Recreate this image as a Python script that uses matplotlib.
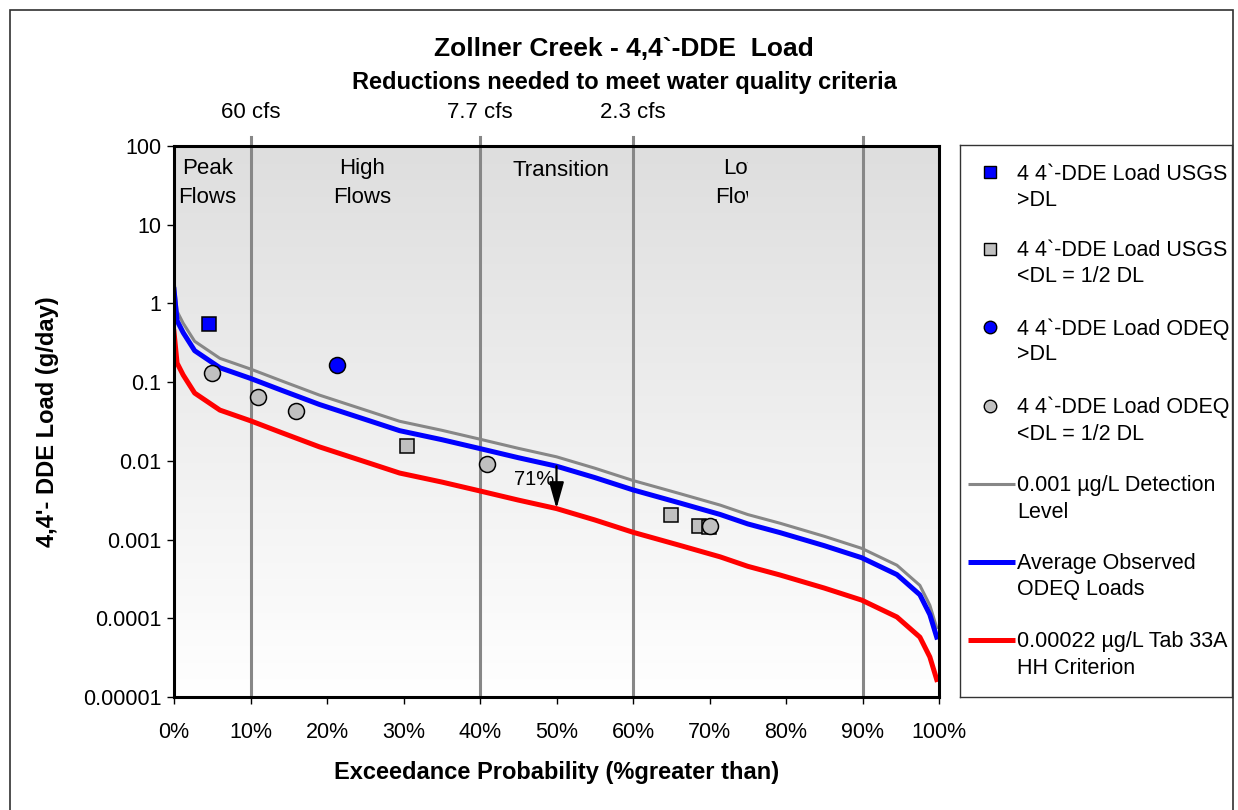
import numpy as np
import matplotlib
matplotlib.use("Agg")
import matplotlib.pyplot as plt
from matplotlib.colors import LinearSegmentedColormap
from matplotlib.patches import Rectangle
from matplotlib.transforms import Bbox, TransformedBbox, blended_transform_factory

plt.rcParams['font.family'] = ['Liberation Sans', 'DejaVu Sans']

# ---- Flow duration curve for Zollner Creek (percent of time exceeded, cfs) ----
exceed_pct = [0, 0.4, 1.2, 2.7, 6, 10, 13.9, 19, 25.6, 29.5, 35, 40, 45, 50,
              55, 60, 66, 71.4, 75, 79.2, 85, 89.9, 94.5, 97.5, 98.8, 99.7]
flow_cfs = [806, 325, 229, 135, 82, 60, 43, 28, 17.3, 13, 10, 7.7, 5.9, 4.6,
            3.3, 2.3, 1.58, 1.12, 0.85, 0.66, 0.45, 0.316, 0.193, 0.107, 0.060, 0.031]

# ---- Concentrations (ug/L) ----
detection_level = 0.001
observed_avg = 0.00076
criterion = 0.00022

# ug/L * cfs -> g/day
GDAY_PER_UGL_CFS = 28.3168 * 86400 * 1e-6

# ---- Sample loads (g/day) ----
usgs_det_pct = [4.6]
usgs_det_load = [0.55]
usgs_nd_pct = [30.5, 65.0, 68.6, 69.9]
usgs_nd_load = [0.0154, 0.00205, 0.00149, 0.00146]
odeq_det_pct = [21.3]
odeq_det_load = [0.165]
odeq_nd_pct = [5.0, 11.0, 15.9, 40.9, 70.1]
odeq_nd_load = [0.13, 0.0647, 0.043, 0.0091, 0.00149]

# ---- Flow zones ----
zone_bounds = [10, 40, 60, 90]
flow_label_pcts = [10, 40, 60]
zone_names = ["Peak\nFlows", "High\nFlows", "Transition", "Low\nFlows"]
reduction_pct_at = 50

# ---- Axis ticks ----
y_ticks = [1e-5, 1e-4, 1e-3, 1e-2, 1e-1, 1, 10, 100]
y_tick_labels = ["0.00001", "0.0001", "0.001", "0.01", "0.1", "1", "10", "100"]
x_ticks = list(range(0, 101, 10))
x_tick_labels = [f"{v}%" for v in x_ticks]

# ---- Derived load curves ----
flow = np.array(flow_cfs)
dl_load = detection_level * flow * GDAY_PER_UGL_CFS
obs_load = observed_avg * flow * GDAY_PER_UGL_CFS
crit_load = criterion * flow * GDAY_PER_UGL_CFS

GREY = '#878787'
W, H = 1238, 810
fig = plt.figure(figsize=(W / 100, H / 100), dpi=100)


def fx(px):
    return px / W


def fy(py):
    return 1 - py / H


ax_rect = [fx(174), fy(697), fx(939) - fx(174), fy(146) - fy(697)]

# gradient backdrop behind the plot area
bg = fig.add_axes(ax_rect, zorder=0)
bg.imshow(np.linspace(0, 1, 256).reshape(-1, 1), origin='lower', aspect='auto',
          extent=[0, 1, 0, 1],
          cmap=LinearSegmentedColormap.from_list('bg', ['#ffffff', '#dedede']))
bg.set_axis_off()

ax = fig.add_axes(ax_rect, zorder=1)
ax.patch.set_visible(False)
ax.set_xlim(0, 100)
ax.set_yscale('log')
ax.set_ylim(1e-5, 100)

for b in zone_bounds:
    ax.axvline(b, ymin=0, ymax=1 + 9 / 551, color=GREY, lw=2.2, clip_on=False, zorder=2)

ax.plot(exceed_pct, dl_load, color=GREY, lw=2.2, zorder=3,
        label="0.001 \u00b5g/L Detection\nLevel")
ax.plot(exceed_pct, obs_load, color='#0000ff', lw=3.6, zorder=4,
        label="Average Observed\nODEQ Loads")
ax.plot(exceed_pct, crit_load, color='#ff0000', lw=3.6, zorder=4,
        label="0.00022 \u00b5g/L Tab 33A\nHH Criterion")

sq_kw = dict(marker='s', ms=9.4, mec='black', mew=1.1, ls='none', zorder=5)
ci_kw = dict(marker='o', ms=11.5, mec='black', mew=1.1, ls='none', zorder=6)
ax.plot(usgs_det_pct, usgs_det_load, mfc='#0000ff', **sq_kw)
ax.plot(usgs_nd_pct, usgs_nd_load, mfc='#c0c0c0', **sq_kw)
ax.plot(odeq_det_pct, odeq_det_load, mfc='#0000ff', **ci_kw)
ax.plot(odeq_nd_pct, odeq_nd_load, mfc='#c0c0c0', **ci_kw)

# reduction arrow
i50 = exceed_pct.index(reduction_pct_at)
ax.annotate('', xy=(reduction_pct_at, crit_load[i50]),
            xytext=(reduction_pct_at, obs_load[i50]),
            arrowprops=dict(arrowstyle='-|>,head_length=1.6,head_width=0.45',
                            mutation_scale=10, color='black', lw=1.6,
                            shrinkA=0, shrinkB=0), zorder=7)
reduction = round(100 * (1 - criterion / observed_avg))
ax.text(reduction_pct_at - 0.3, np.sqrt(obs_load[i50] * crit_load[i50]) * 1.25,
        f"{reduction}%", ha='right', va='center', fontsize=14.5, zorder=7)

# axes styling
ax.set_yticks(y_ticks)
ax.set_yticklabels(y_tick_labels)
ax.yaxis.set_minor_locator(matplotlib.ticker.NullLocator())
ax.set_xticks(x_ticks)
ax.set_xticklabels(x_tick_labels)
ax.tick_params(axis='y', direction='out', length=5, width=1, labelsize=15.5, pad=4)
ax.tick_params(axis='x', direction='out', length=5, width=1, labelsize=15.5, pad=13)
for s in ax.spines.values():
    s.set_linewidth(2.2)
    s.set_zorder(8)

ax.set_xlabel("Exceedance Probability (%greater than)", fontsize=17,
              fontweight='bold', labelpad=13)
ax.set_ylabel("4,4'- DDE Load (g/day)", fontsize=17, fontweight='bold', labelpad=17)

# flow at zone boundaries
top_tr = blended_transform_factory(ax.transData, ax.transAxes)
for p in flow_label_pcts:
    q = flow_cfs[exceed_pct.index(p)]
    ax.text(p, 1 + (146 - 113) / 551, f"{q:g} cfs", transform=top_tr,
            ha='center', va='center', fontsize=16)

# zone names
zone_x = [4.4, 24.6, 50.6, 74.5]
for name, zx in zip(zone_names, zone_x):
    two = '\n' in name
    t = ax.text(zx, (697 - 183) / 551 if two else (697 - 171) / 551, name,
                transform=top_tr, ha='center', va='center', fontsize=16,
                linespacing=1.45, zorder=7)
    if name.startswith("Low"):
        t.set_clip_box(TransformedBbox(Bbox.from_extents(60, 0, 75, 1), top_tr))
        t.set_clip_on(True)

# titles
fig.text(fx(624), fy(49), "Zollner Creek - 4,4`-DDE  Load", ha='center', va='center',
         fontsize=19, fontweight='bold')
fig.text(fx(624), fy(82), "Reductions needed to meet water quality criteria",
         ha='center', va='center', fontsize=17, fontweight='bold')

# legend panel
lax = fig.add_axes([fx(960), fy(697), fx(1232) - fx(960), fy(145) - fy(697)], zorder=2)
lax.set_xlim(960, 1232)
lax.set_ylim(697, 145)
lax.set_xticks([])
lax.set_yticks([])
for s in lax.spines.values():
    s.set_linewidth(1.0)
    s.set_color('#333333')

entries = [
    ('s', '#0000ff', "4 4`-DDE Load USGS\n>DL"),
    ('s', '#c0c0c0', "4 4`-DDE Load USGS\n<DL = 1/2 DL"),
    ('o', '#0000ff', "4 4`-DDE Load ODEQ\n>DL"),
    ('o', '#c0c0c0', "4 4`-DDE Load ODEQ\n<DL = 1/2 DL"),
    ('-', GREY, "0.001 \u00b5g/L Detection\nLevel"),
    ('-', '#0000ff', "Average Observed\nODEQ Loads"),
    ('-', '#ff0000', "0.00022 \u00b5g/L Tab 33A\nHH Criterion"),
]
entry_y = [172, 249, 327, 406, 484, 562, 640]
for (kind, col, label), y in zip(entries, entry_y):
    if kind == '-':
        lax.plot([968, 1015], [y, y], color=col, lw=2.2 if col == GREY else 3.6,
                 solid_capstyle='butt')
    else:
        lax.plot([990], [y], marker=kind, ms=8.0 if kind == 's' else 9.0,
                 mfc=col, mec='black', mew=1.0, ls='none')
    for k, line in enumerate(label.split('\n')):
        lax.text(1017, y + 7.5 + 26 * k, line, fontsize=15.5, ha='left', va='baseline')

# outer frame
fig.add_artist(Rectangle((fx(10), -0.05), fx(1233) - fx(10), fy(10) + 0.05,
                         transform=fig.transFigure, fill=False, ec='#303030', lw=1.2))

fig.savefig('out.png', dpi=100)
